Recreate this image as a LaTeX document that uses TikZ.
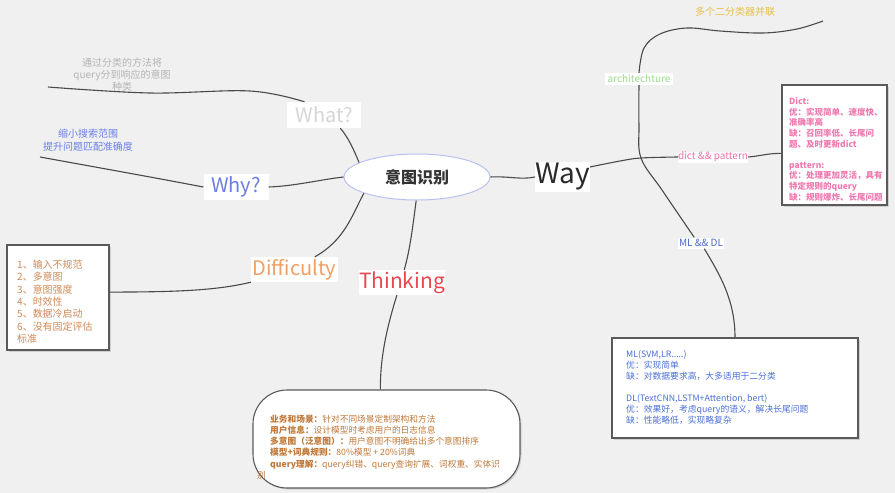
\documentclass[tikz,border=0pt]{standalone}
\usepackage{fontspec}
\setmainfont{Noto Sans CJK SC}
\usetikzlibrary{shapes.geometric,shadows}
\definecolor{bg}{HTML}{F0F0F0}
\definecolor{linec}{HTML}{4A4A4A}
\definecolor{boxc}{HTML}{5A5A5A}
\definecolor{ellc}{HTML}{B8C0F0}
\definecolor{maintxt}{HTML}{333333}
\definecolor{whatc}{HTML}{D6D6D6}
\definecolor{whyc}{HTML}{6B7FE0}
\definecolor{diffc}{HTML}{F2A062}
\definecolor{thinkc}{HTML}{E84850}
\definecolor{wayc}{HTML}{2A2A2A}
\definecolor{archc}{HTML}{9CDB8C}
\definecolor{dpc}{HTML}{F070A8}
\definecolor{mldlc}{HTML}{4A6AC8}
\definecolor{goldc}{HTML}{E8C048}
\definecolor{grayt}{HTML}{B4B4B4}
\definecolor{bluet}{HTML}{6A7FE8}
\definecolor{difft}{HTML}{D08A58}
\definecolor{thinkt}{HTML}{C07838}
\definecolor{dictt}{HTML}{F07AB0}
\definecolor{mlt}{HTML}{4A70D8}
\newcommand{\fs}[2]{\fontsize{#1}{#2}\selectfont}
\begin{document}
\begin{tikzpicture}[x=1pt,y=-1pt,
  conn/.style={draw=linec, line width=1.1pt},
  lab/.style={fill=white, inner sep=0pt},
  boxnode/.style={draw=boxc, line width=1.1pt, fill=white, inner sep=0pt,
    drop shadow={shadow xshift=1.5pt, shadow yshift=-1.5pt, fill=black!30}},
  txt/.style={inner sep=0pt, align=left, anchor=north west},
  ctxt/.style={inner sep=0pt, align=center}]
\fill[bg] (0,0) rectangle (895,493);
\useasboundingbox (0,0) rectangle (895,493);

% boxes
\node[boxnode, minimum width=102, minimum height=105] (diffbox) at (58,297.5) {};
\node[boxnode, minimum width=105, minimum height=120] (dictbox) at (834.5,145) {};
\node[boxnode, minimum width=246, minimum height=100] (mlbox) at (735,388) {};
\node[boxnode, rounded corners=34pt, minimum width=267, minimum height=98] (thinkbox) at (386.5,439) {};

% central node
\node[ellipse, draw=ellc, line width=1pt, fill=white, minimum width=146, minimum height=46, inner sep=0pt,
  text=maintxt, font=\fs{16}{18}\bfseries] (c) at (417,177) {意图识别};

% labels
\node[lab, minimum width=74, minimum height=26, text=whatc, font=\fs{20}{22}] (what) at (324,115) {What?};
\node[lab, minimum width=65, minimum height=26, text=whyc, font=\fs{20}{22}] (why) at (236,187) {Why?};
\node[lab, minimum width=87, minimum height=25, text=diffc, font=\fs{20}{22}] (diff) at (294.5,269.5) {Difficulty};
\node[lab, minimum width=84, minimum height=25, text=thinkc, font=\fs{21}{23}] (think) at (402,282.5) {Thinking};
\node[lab, minimum width=49, minimum height=30, text=wayc, font=\fs{28}{30}] (way) at (562.5,177) {Way};
\node[lab, minimum width=68, minimum height=12, text=archc, font=\fs{10}{12}] (arch) at (639,79) {architechture};
\node[lab, minimum width=68, minimum height=11, text=dpc, font=\fs{10}{12}] (dp) at (713,157) {dict \&\& pattern};
\node[lab, minimum width=46, minimum height=11, text=mldlc, font=\fs{10}{12}] (mldl) at (701,243) {ML \&\& DL};

% free texts
\node[ctxt, text=grayt, font=\fs{10}{12}] (whatnote) at (122,75) {通过分类的方法将\\query分到响应的意图\\种类};
\node[ctxt, text=bluet, font=\fs{10}{13}] (whynote) at (88,140.5) {缩小搜索范围\\提升问题匹配准确度};
\node[ctxt, text=goldc, font=\fs{10}{12}] (archnote) at (735,12) {多个二分类器并联};

\node[txt, text=difft, font=\fs{10}{12.3}] (difftext) at (17,260) {1、输入不规范\\2、多意图\\3、意图强度\\4、时效性\\5、数据冷启动\\6、没有固定评估\\标准};

\node[txt, text=dictt, font=\fs{8.5}{10.6}\bfseries] (dicttext) at (789,97.5) {Dict:\\优：实现简单、速度快、\\准确率高\\缺：召回率低、长尾问\\题、及时更新dict\\[10.6pt]pattern:\\优：处理更加灵活，具有\\特定规则的query\\缺：规则爆炸、长尾问题};

\node[txt, text=mlt, font=\fs{8.8}{11}] (mltext) at (626,350.5) {ML(SVM,LR.....)\\优：实现简单\\缺：对数据要求高，大多适用于二分类\\[11pt]DL(TextCNN,LSTM+Attention, bert)\\优：效果好，考虑query的语义，解决长尾问题\\缺：性能略低，实现略复杂};

\node[txt, text=thinkt, font=\fs{8.7}{11.2}] (thinktext) at (270,414.6) {\textbf{业务和场景：}针对不同场景定制架构和方法\\\textbf{用户信息：}设计模型时考虑用户的日志信息\\\textbf{多意图（泛意图）：}用户意图不明确给出多个意图排序\\\textbf{模型+词典规则：}80\%模型 + 20\%词典\\\textbf{query理解：}query纠错、query查询扩展、词权重、实体识\\\hspace*{-13pt}别};

% free ends
\coordinate (whatEnd) at (48,87);
\coordinate (whyEnd) at (40,157);
\coordinate (archEnd) at (823,21);
\coordinate (cross) at (641,158);

% connectors
\draw[conn] (c.166) .. controls (354,150) and (348,137) .. (what.-39);
\draw[conn] plot[smooth, tension=0.6] coordinates {(what.146) (250,91) (150,93) (whatEnd)};
\draw[conn] (c.180) .. controls (318,180) and (295,186) .. (why.east);
\draw[conn] plot[smooth, tension=0.6] coordinates {(why.west) (150,177) (whyEnd)};
\draw[conn] (c.197) .. controls (352,215) and (345,240) .. (diff.32);
\draw[conn] (diff.south west) .. controls (215,291) and (170,292) .. (diffbox.6);
\draw[conn] (c.268) .. controls (413,225) and (410,250) .. (think.80);
\draw[conn] (think.248) .. controls (386,330) and (380,360) .. (thinkbox.97.6);
\draw[conn] (c.east) .. controls (510,176) and (520,180) .. (way.west);
\draw[conn] plot[smooth, tension=0.6] coordinates {(way.20) (620,161) (cross) (dp.west)};
\draw[conn] (dp.east) .. controls (760,156) and (770,153) .. (dictbox.189);
\draw[conn] plot[smooth, tension=0.6] coordinates {(arch.north) (644,48) (660,34) (687,28) (720,31) (763,33) (797,29) (archEnd)};
\draw[conn] plot[smooth, tension=0.6] coordinates {(arch.south) (639,125) (cross) (662,190) (mldl.140)};
\draw[conn] (mldl.-60) .. controls (720,275) and (735,300) .. (mlbox.north);
\end{tikzpicture}
\end{document}
